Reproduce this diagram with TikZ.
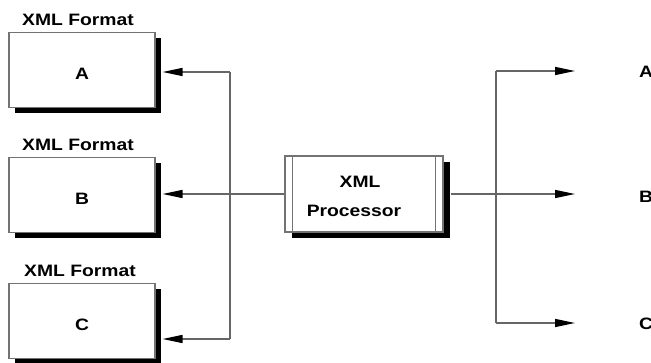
\documentclass[tikz,border=0pt]{standalone}
\usepackage{fontspec}
\setmainfont{Liberation Sans}[FakeStretch=1.17]
\usetikzlibrary{arrows.meta,shadows,calc}
\begin{document}
\begin{tikzpicture}[x=1pt,y=-1pt,
  font=\fontsize{16.5}{29}\selectfont\bfseries,
  fmtbox/.style={draw=black!55,line width=1.1pt,fill=white,
    minimum width=146pt,minimum height=75pt,inner sep=0pt,
    drop shadow={shadow xshift=6pt,shadow yshift=-6pt,fill=black,opacity=1}},
  fmtlabel/.style={inner sep=0pt,anchor=base},
  wire/.style={draw=black!60,line width=1.4pt},
  arr/.style={wire,-{Triangle[length=20pt,width=8pt,fill=black,color=black]}}]
\useasboundingbox (0,0) rectangle (651,363);

% output format boxes on the left
\node[fmtbox] (A) at (82,70) {};
\node[fmtbox] (B) at (82,195) {};
\node[fmtbox] (C) at (82,321) {};
\node[fmtlabel] (Aletter) at (82,80) {A};
\node[fmtlabel] (Bletter) at (82,205) {B};
\node[fmtlabel] (Cletter) at (82,331) {C};
\node[fmtlabel] (Alab) at (78,26) {XML Format};
\node[fmtlabel] (Blab) at (78,151) {XML Format};
\node[fmtlabel] (Clab) at (80,277) {XML Format};

% the processor in the middle
\node[draw=black!55,line width=1.1pt,fill=white,
  minimum width=158pt,minimum height=76pt,inner sep=0pt,align=center,
  drop shadow={shadow xshift=7pt,shadow yshift=-6pt,fill=black,opacity=1}]
  (P) at (364,194) {};
\draw[draw=black!55,line width=1.1pt] ($(P.north west)+(8,0)$) -- ($(P.south west)+(8,0)$);
\draw[draw=black!55,line width=1.1pt] ($(P.north east)+(-8,0)$) -- ($(P.south east)+(-8,0)$);
\node[fmtlabel] (Ptop) at (360,188) {XML};
\node[fmtlabel] (Pbot) at (354,217) {Processor};

% outputs on the right
\node[inner sep=0pt,anchor=base west] (outA) at (639,78) {A};
\node[inner sep=0pt,anchor=base west] (outB) at (639,203) {B};
\node[inner sep=0pt,anchor=base west] (outC) at (639,330) {C};

% left distribution bus
\coordinate (busA) at (230,72);
\coordinate (busC) at (230,339);
\coordinate (tipA) at ($(A.east |- busA)+(7,0)$);
\coordinate (tipB) at ($(B.east |- P.west)+(7,0)$);
\coordinate (tipC) at ($(C.east |- busC)+(7,0)$);
\draw[wire] (busA) -- (busC);
\draw[arr] (busA) -- (tipA);
\draw[arr] (busC) -- (tipC);
\draw[arr] (P.west) -- (tipB);

% right distribution bus
\coordinate (busRA) at (496,71);
\coordinate (busRC) at (496,323);
\coordinate (endA) at (575,71);
\coordinate (endB) at (575,194);
\coordinate (endC) at (575,323);
\draw[wire] (busRA) -- (busRC);
\draw[arr] (busRA) -- (endA);
\draw[arr] (busRC) -- (endC);
\draw[arr] ($(P.east)+(7,0)$) -- (endB);
\end{tikzpicture}
\end{document}
